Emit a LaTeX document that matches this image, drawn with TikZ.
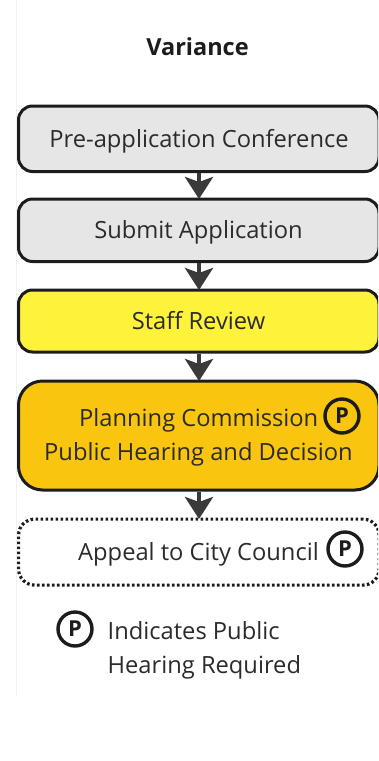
\documentclass[tikz,border=0pt]{standalone}
\usepackage{fontspec}
\setmainfont{Open Sans}
\usetikzlibrary{arrows.meta}
\definecolor{boxline}{HTML}{1C1C1C}
\definecolor{txt}{HTML}{2B2B2B}
\definecolor{greyfill}{HTML}{E6E6E6}
\definecolor{yel}{HTML}{FFF23A}
\definecolor{amber}{HTML}{F9C50E}
\definecolor{arr}{HTML}{3A3A3A}
\tikzset{x=1pt,y=-1pt,
 flowbox/.style={draw=boxline,line width=3pt,rounded corners=14pt,minimum width=360.5pt,inner sep=0pt,anchor=north west,text=txt},
 label/.style={text=txt,font=\fontsize{23.7}{33}\selectfont,inner sep=0pt,anchor=base west},
 pmark/.style={circle,draw=boxline,line width=3.4pt,minimum size=34pt,inner sep=0pt,text=boxline,font=\fontsize{22}{22}\selectfont\bfseries},
 flowarrow/.style={draw=arr,line width=4.5pt,-{Stealth[length=22pt,width=28pt,inset=5pt]}},
}
\begin{document}
\begin{tikzpicture}
\useasboundingbox (0,0) rectangle (378,761);
\clip (0,0) rectangle (378,761);
\draw[draw=black!6,line width=0.8pt] (16.5,0) -- (16.5,696);
\node[font=\fontsize{23.5}{25}\selectfont\bfseries,text=boxline,inner sep=0pt] (title) at (197.5,47) {Variance};
\node[flowbox,fill=greyfill,minimum height=65.5pt] (b1) at (17,104.5) {};
\node[flowbox,fill=greyfill,minimum height=62.5pt] (b2) at (17,197.5) {};
\node[flowbox,fill=yel,minimum height=62pt] (b3) at (17,288.5) {};
\node[flowbox,fill=amber,minimum height=109pt,rounded corners=24pt] (b4) at (17,379.5) {};
\node[flowbox,dash pattern=on 2.6pt off 2.4pt,minimum height=66pt,line width=3.2pt,rounded corners=16pt] (b5) at (17,517.5) {};
\node[label,anchor=base] (t1) at (199,147) {Pre-application Conference};
\node[label,anchor=base] (t2) at (198.5,238.5) {Submit Application};
\node[label,anchor=base] (t3) at (198.5,329) {Staff Review};
\node[label] (t4a) at (79,426.5) {Planning Commission};
\node[label] (t4b) at (44,460.5) {Public Hearing and Decision};
\node[label] (t5) at (78,560.5) {Appeal to City Council};
\node[label] (t6a) at (107.5,639.5) {Indicates Public};
\node[label] (t6b) at (107.5,673.5) {Hearing Required};
\node[pmark] (p1) at (342,416) {P};
\node[pmark] (p2) at (345,549) {P};
\node[pmark] (p3) at (75,629) {P};
\foreach \a/\b in {b1/b2,b2/b3,b3/b4,b4/b5}
  \draw[flowarrow,shorten >=-1.5pt] (\a.south -| 199,0) -- (\b.north -| 199,0);
\end{tikzpicture}
\end{document}
